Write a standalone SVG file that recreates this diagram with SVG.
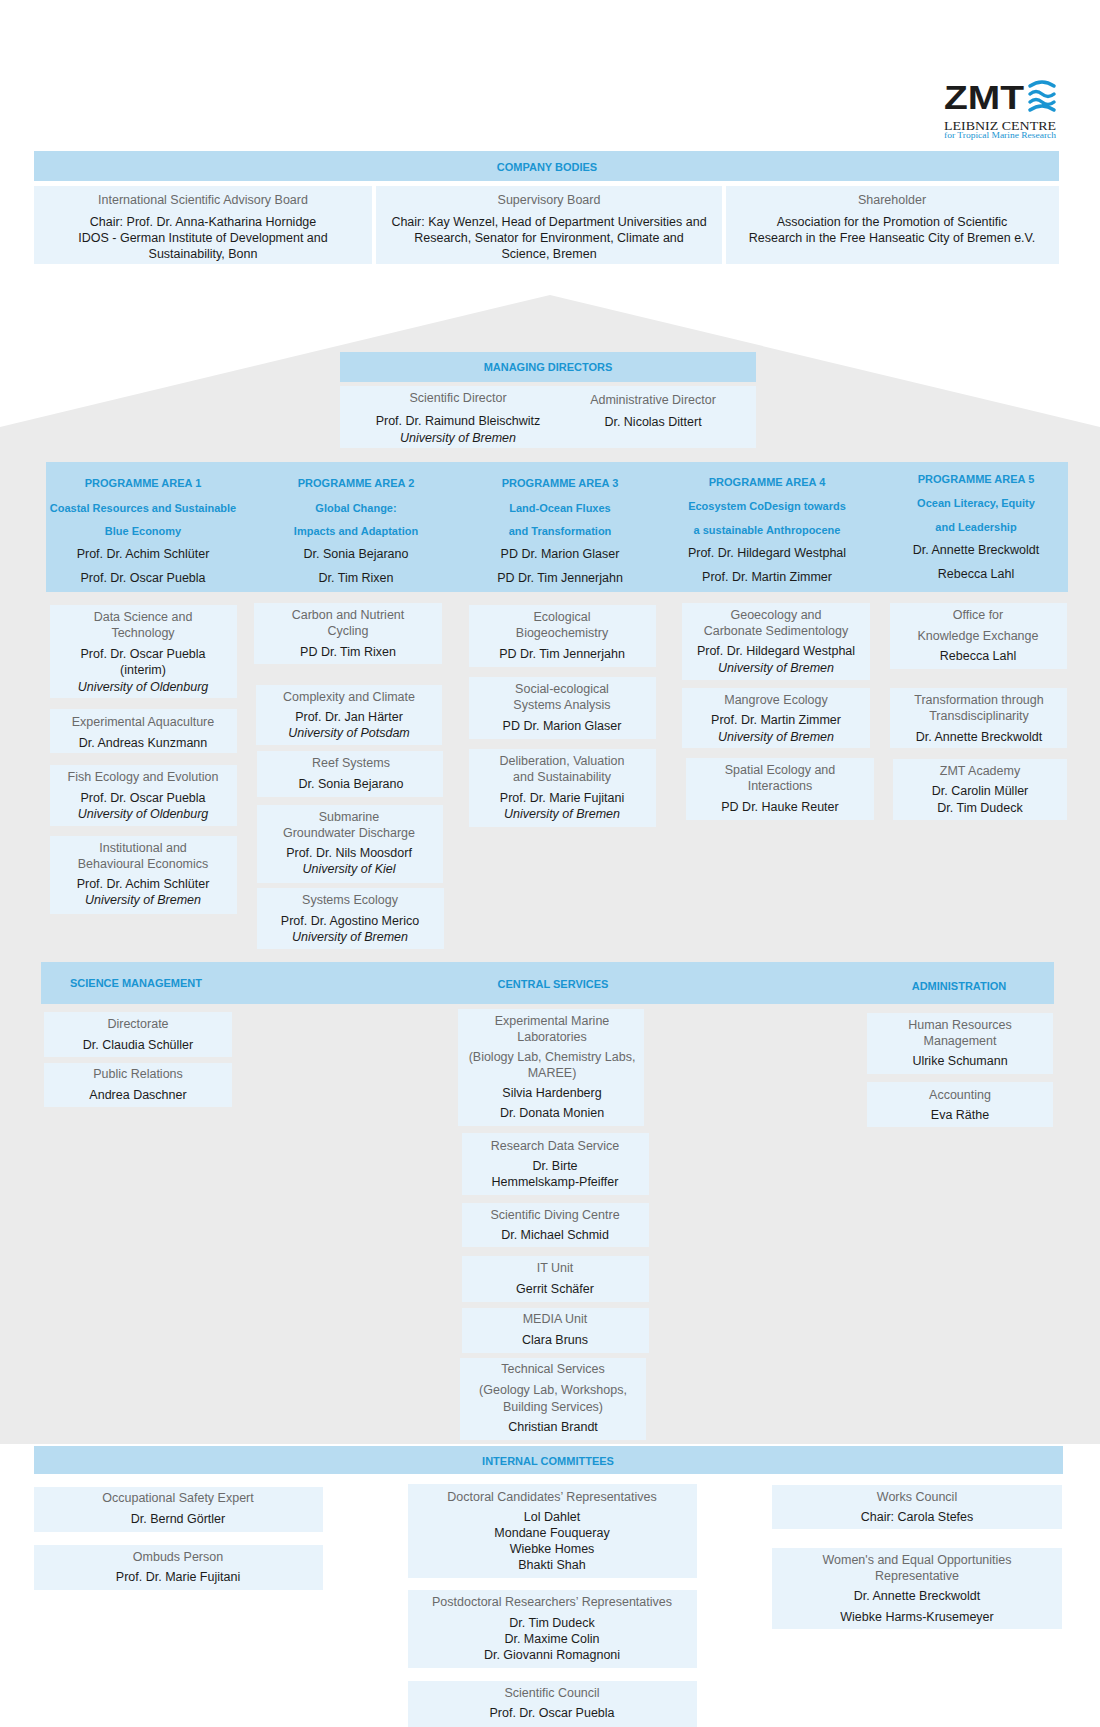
<svg xmlns="http://www.w3.org/2000/svg" width="1100" height="1727" viewBox="0 0 1100 1727">
<style>
text{font-family:"Liberation Sans","Open Sans",sans-serif;text-anchor:middle;dominant-baseline:central;font-size:12.5px}
.t{fill:#6a6a6a}.n{fill:#1c1c1c}.i{fill:#1c1c1c;font-style:italic}
.h{fill:#1a95d2;font-weight:bold;font-size:11px}
.hb{fill:#b8dcf1}.bx{fill:#e8f3fb}
</style>
<rect width="1100" height="1727" fill="#fff"/>
<polygon points="0,427 550,295 1100,427 1100,1444 0,1444" fill="#ebebeb"/>
<g id="logo">
<text x="944" y="97" textLength="80" lengthAdjust="spacingAndGlyphs" style="font-size:34px;font-weight:bold;fill:#1c1c1c;text-anchor:start">ZMT</text>
<path d="M1030,86 q12,-8 24,0 M1030,94 q6,-5 12,0 q6,5 12,0 M1030,102 q6,-5 12,0 q6,5 12,0 M1030,110 q12,-8 24,0" fill="none" stroke="#1a95d2" stroke-width="3.5" stroke-linecap="round"/>
<text x="944" y="125" textLength="112" lengthAdjust="spacingAndGlyphs" style="font-family:'Liberation Serif',serif;font-size:13px;fill:#1c1c1c;text-anchor:start">LEIBNIZ CENTRE</text>
<text x="944" y="135" textLength="112" lengthAdjust="spacingAndGlyphs" style="font-family:'Liberation Serif',serif;font-size:8px;fill:#1a95d2;text-anchor:start">for Tropical Marine Research</text>
</g>
<g id="company-bodies">
<rect class="hb" x="34" y="151" width="1025" height="30"/><text class="h" x="547" y="167">COMPANY BODIES</text>
<rect class="bx" x="34" y="186" width="338" height="78"/>
<text class="t" x="203" y="200">International Scientific Advisory Board</text>
<text class="n" x="203" y="222">Chair: Prof. Dr. Anna-Katharina Hornidge</text>
<text class="n" x="203" y="238">IDOS - German Institute of Development and</text>
<text class="n" x="203" y="254">Sustainability, Bonn</text>
<rect class="bx" x="376" y="186" width="346" height="78"/>
<text class="t" x="549" y="200">Supervisory Board</text>
<text class="n" x="549" y="222">Chair: Kay Wenzel, Head of Department Universities and</text>
<text class="n" x="549" y="238">Research, Senator for Environment, Climate and</text>
<text class="n" x="549" y="254">Science, Bremen</text>
<rect class="bx" x="726" y="186" width="333" height="78"/>
<text class="t" x="892" y="200">Shareholder</text>
<text class="n" x="892" y="222">Association for the Promotion of Scientific</text>
<text class="n" x="892" y="238">Research in the Free Hanseatic City of Bremen e.V.</text>
</g>
<g id="managing-directors">
<rect class="hb" x="340" y="352" width="416" height="30"/><text class="h" x="548" y="367">MANAGING DIRECTORS</text>
<rect class="bx" x="340" y="386" width="416" height="62"/>
<text class="t" x="458" y="398">Scientific Director</text>
<text class="n" x="458" y="421">Prof. Dr. Raimund Bleischwitz</text>
<text class="i" x="458" y="438">University of Bremen</text>
<text class="t" x="653" y="400">Administrative Director</text>
<text class="n" x="653" y="422">Dr. Nicolas Dittert</text>
</g>
<g id="programme-areas">
<rect class="hb" x="46" y="462" width="1022" height="130"/>
<text class="h" x="143" y="483">PROGRAMME AREA 1</text><text class="h" x="143" y="508">Coastal Resources and Sustainable</text><text class="h" x="143" y="531">Blue Economy</text><text class="n" x="143" y="554">Prof. Dr. Achim Schlüter</text><text class="n" x="143" y="578">Prof. Dr. Oscar Puebla</text>
<text class="h" x="356" y="483">PROGRAMME AREA 2</text><text class="h" x="356" y="508">Global Change:</text><text class="h" x="356" y="531">Impacts and Adaptation</text><text class="n" x="356" y="554">Dr. Sonia Bejarano</text><text class="n" x="356" y="578">Dr. Tim Rixen</text>
<text class="h" x="560" y="483">PROGRAMME AREA 3</text><text class="h" x="560" y="508">Land-Ocean Fluxes</text><text class="h" x="560" y="531">and Transformation</text><text class="n" x="560" y="554">PD Dr. Marion Glaser</text><text class="n" x="560" y="578">PD Dr. Tim Jennerjahn</text>
<text class="h" x="767" y="482">PROGRAMME AREA 4</text><text class="h" x="767" y="506">Ecosystem CoDesign towards</text><text class="h" x="767" y="530">a sustainable  Anthropocene</text><text class="n" x="767" y="553">Prof. Dr. Hildegard Westphal</text><text class="n" x="767" y="577">Prof. Dr. Martin Zimmer</text>
<text class="h" x="976" y="479">PROGRAMME AREA 5</text><text class="h" x="976" y="503">Ocean Literacy, Equity</text><text class="h" x="976" y="527">and Leadership</text><text class="n" x="976" y="550">Dr. Annette Breckwoldt</text><text class="n" x="976" y="574">Rebecca Lahl</text>
</g>
<g id="pa1-units">
<rect class="bx" x="50" y="605" width="187" height="93"/><text class="t" x="143" y="617">Data Science and</text><text class="t" x="143" y="633">Technology</text><text class="n" x="143" y="654">Prof. Dr. Oscar Puebla</text><text class="n" x="143" y="670">(interim)</text><text class="i" x="143" y="687">University of Oldenburg</text>
<rect class="bx" x="50" y="709" width="187" height="44"/><text class="t" x="143" y="722">Experimental Aquaculture</text><text class="n" x="143" y="743">Dr. Andreas Kunzmann</text>
<rect class="bx" x="50" y="765" width="187" height="61"/><text class="t" x="143" y="777">Fish Ecology and Evolution</text><text class="n" x="143" y="798">Prof. Dr. Oscar Puebla</text><text class="i" x="143" y="814">University of Oldenburg</text>
<rect class="bx" x="50" y="836" width="187" height="78"/><text class="t" x="143" y="848">Institutional and</text><text class="t" x="143" y="864">Behavioural Economics</text><text class="n" x="143" y="884">Prof. Dr. Achim Schlüter</text><text class="i" x="143" y="900">University of Bremen</text>
</g>
<g id="pa2-units">
<rect class="bx" x="254" y="603" width="188" height="61"/><text class="t" x="348" y="615">Carbon and Nutrient</text><text class="t" x="348" y="631">Cycling</text><text class="n" x="348" y="652">PD Dr. Tim Rixen</text>
<rect class="bx" x="256" y="685" width="186" height="60"/><text class="t" x="349" y="697">Complexity and Climate</text><text class="n" x="349" y="717">Prof. Dr. Jan Härter</text><text class="i" x="349" y="733">University of Potsdam</text>
<rect class="bx" x="257" y="751" width="186" height="46"/><text class="t" x="351" y="763">Reef Systems</text><text class="n" x="351" y="784">Dr. Sonia Bejarano</text>
<rect class="bx" x="257" y="805" width="186" height="78"/><text class="t" x="349" y="817">Submarine</text><text class="t" x="349" y="833">Groundwater Discharge</text><text class="n" x="349" y="853">Prof. Dr. Nils Moosdorf</text><text class="i" x="349" y="869">University of Kiel</text>
<rect class="bx" x="257" y="888" width="187" height="61"/><text class="t" x="350" y="900">Systems Ecology</text><text class="n" x="350" y="921">Prof. Dr. Agostino Merico</text><text class="i" x="350" y="937">University of Bremen</text>
</g>
<g id="pa3-units">
<rect class="bx" x="469" y="605" width="187" height="62"/><text class="t" x="562" y="617">Ecological</text><text class="t" x="562" y="633">Biogeochemistry</text><text class="n" x="562" y="654">PD Dr. Tim Jennerjahn</text>
<rect class="bx" x="469" y="677" width="187" height="62"/><text class="t" x="562" y="689">Social-ecological</text><text class="t" x="562" y="705">Systems Analysis</text><text class="n" x="562" y="726">PD Dr. Marion Glaser</text>
<rect class="bx" x="469" y="749" width="187" height="78"/><text class="t" x="562" y="761">Deliberation, Valuation</text><text class="t" x="562" y="777">and Sustainability</text><text class="n" x="562" y="798">Prof. Dr. Marie Fujitani</text><text class="i" x="562" y="814">University of Bremen</text>
</g>
<g id="pa4-units">
<rect class="bx" x="682" y="603" width="188" height="77"/><text class="t" x="776" y="615">Geoecology and</text><text class="t" x="776" y="631">Carbonate Sedimentology</text><text class="n" x="776" y="651">Prof. Dr. Hildegard Westphal</text><text class="i" x="776" y="668">University of Bremen</text>
<rect class="bx" x="682" y="688" width="188" height="60"/><text class="t" x="776" y="700">Mangrove Ecology</text><text class="n" x="776" y="720">Prof. Dr. Martin Zimmer</text><text class="i" x="776" y="737">University of Bremen</text>
<rect class="bx" x="686" y="758" width="188" height="62"/><text class="t" x="780" y="770">Spatial Ecology and</text><text class="t" x="780" y="786">Interactions</text><text class="n" x="780" y="807">PD Dr. Hauke Reuter</text>
</g>
<g id="pa5-units">
<rect class="bx" x="890" y="603" width="177" height="66"/><text class="t" x="978" y="615">Office for</text><text class="t" x="978" y="636">Knowledge Exchange</text><text class="n" x="978" y="656">Rebecca Lahl</text>
<rect class="bx" x="890" y="688" width="177" height="60"/><text class="t" x="979" y="700">Transformation through</text><text class="t" x="979" y="716">Transdisciplinarity</text><text class="n" x="979" y="737">Dr. Annette Breckwoldt</text>
<rect class="bx" x="893" y="759" width="174" height="61"/><text class="t" x="980" y="771">ZMT Academy</text><text class="n" x="980" y="791">Dr. Carolin Müller</text><text class="n" x="980" y="808">Dr. Tim Dudeck</text>
</g>
<g id="services-band">
<rect class="hb" x="41" y="962" width="1013" height="42"/>
<text class="h" x="136" y="983">SCIENCE MANAGEMENT</text><text class="h" x="553" y="984">CENTRAL SERVICES</text><text class="h" x="959" y="986">ADMINISTRATION</text>
</g>
<g id="science-management">
<rect class="bx" x="44" y="1012" width="188" height="45"/><text class="t" x="138" y="1024">Directorate</text><text class="n" x="138" y="1045">Dr. Claudia Schüller</text>
<rect class="bx" x="44" y="1063" width="188" height="44"/><text class="t" x="138" y="1074">Public Relations</text><text class="n" x="138" y="1095">Andrea Daschner</text>
</g>
<g id="central-services">
<rect class="bx" x="458" y="1009" width="186" height="117"/><text class="t" x="552" y="1021">Experimental Marine</text><text class="t" x="552" y="1037">Laboratories</text><text class="t" x="552" y="1057">(Biology Lab, Chemistry Labs,</text><text class="t" x="552" y="1073">MAREE)</text><text class="n" x="552" y="1093">Silvia Hardenberg</text><text class="n" x="552" y="1113">Dr. Donata Monien</text>
<rect class="bx" x="462" y="1133" width="187" height="62"/><text class="t" x="555" y="1146">Research Data Service</text><text class="n" x="555" y="1166">Dr. Birte</text><text class="n" x="555" y="1182">Hemmelskamp-Pfeiffer</text>
<rect class="bx" x="462" y="1203" width="187" height="44"/><text class="t" x="555" y="1215">Scientific Diving Centre</text><text class="n" x="555" y="1235">Dr. Michael Schmid</text>
<rect class="bx" x="462" y="1256" width="187" height="46"/><text class="t" x="555" y="1268">IT Unit</text><text class="n" x="555" y="1289">Gerrit Schäfer</text>
<rect class="bx" x="462" y="1308" width="187" height="45"/><text class="t" x="555" y="1319">MEDIA Unit</text><text class="n" x="555" y="1340">Clara Bruns</text>
<rect class="bx" x="460" y="1358" width="186" height="82"/><text class="t" x="553" y="1369">Technical Services</text><text class="t" x="553" y="1390">(Geology Lab, Workshops,</text><text class="t" x="553" y="1407">Building Services)</text><text class="n" x="553" y="1427">Christian Brandt</text>
</g>
<g id="administration">
<rect class="bx" x="867" y="1013" width="186" height="61"/><text class="t" x="960" y="1025">Human Resources</text><text class="t" x="960" y="1041">Management</text><text class="n" x="960" y="1061">Ulrike Schumann</text>
<rect class="bx" x="867" y="1082" width="186" height="45"/><text class="t" x="960" y="1095">Accounting</text><text class="n" x="960" y="1115">Eva Räthe</text>
</g>
<g id="internal-committees">
<rect class="hb" x="34" y="1446" width="1029" height="28"/><text class="h" x="548" y="1461">INTERNAL COMMITTEES</text>
<rect class="bx" x="34" y="1487" width="289" height="45"/><text class="t" x="178" y="1498">Occupational Safety Expert</text><text class="n" x="178" y="1519">Dr. Bernd Görtler</text>
<rect class="bx" x="34" y="1545" width="289" height="45"/><text class="t" x="178" y="1557">Ombuds Person</text><text class="n" x="178" y="1577">Prof. Dr. Marie Fujitani</text>
<rect class="bx" x="408" y="1484" width="289" height="94"/><text class="t" x="552" y="1497">Doctoral Candidates’ Representatives</text><text class="n" x="552" y="1517">Lol Dahlet</text><text class="n" x="552" y="1533">Mondane Fouqueray</text><text class="n" x="552" y="1549">Wiebke Homes</text><text class="n" x="552" y="1565">Bhakti Shah</text>
<rect class="bx" x="408" y="1590" width="289" height="78"/><text class="t" x="552" y="1602">Postdoctoral Researchers’ Representatives</text><text class="n" x="552" y="1623">Dr. Tim Dudeck</text><text class="n" x="552" y="1639">Dr. Maxime Colin</text><text class="n" x="552" y="1655">Dr. Giovanni Romagnoni</text>
<rect class="bx" x="408" y="1681" width="289" height="46"/><text class="t" x="552" y="1693">Scientific Council</text><text class="n" x="552" y="1713">Prof. Dr. Oscar Puebla</text>
<rect class="bx" x="772" y="1485" width="290" height="44"/><text class="t" x="917" y="1497">Works Council</text><text class="n" x="917" y="1517">Chair: Carola Stefes</text>
<rect class="bx" x="772" y="1548" width="290" height="81"/><text class="t" x="917" y="1560">Women's and Equal Opportunities</text><text class="t" x="917" y="1576">Representative</text><text class="n" x="917" y="1596">Dr. Annette Breckwoldt</text><text class="n" x="917" y="1617">Wiebke Harms-Krusemeyer</text>
</g>
<g id="connectors"></g>
</svg>
